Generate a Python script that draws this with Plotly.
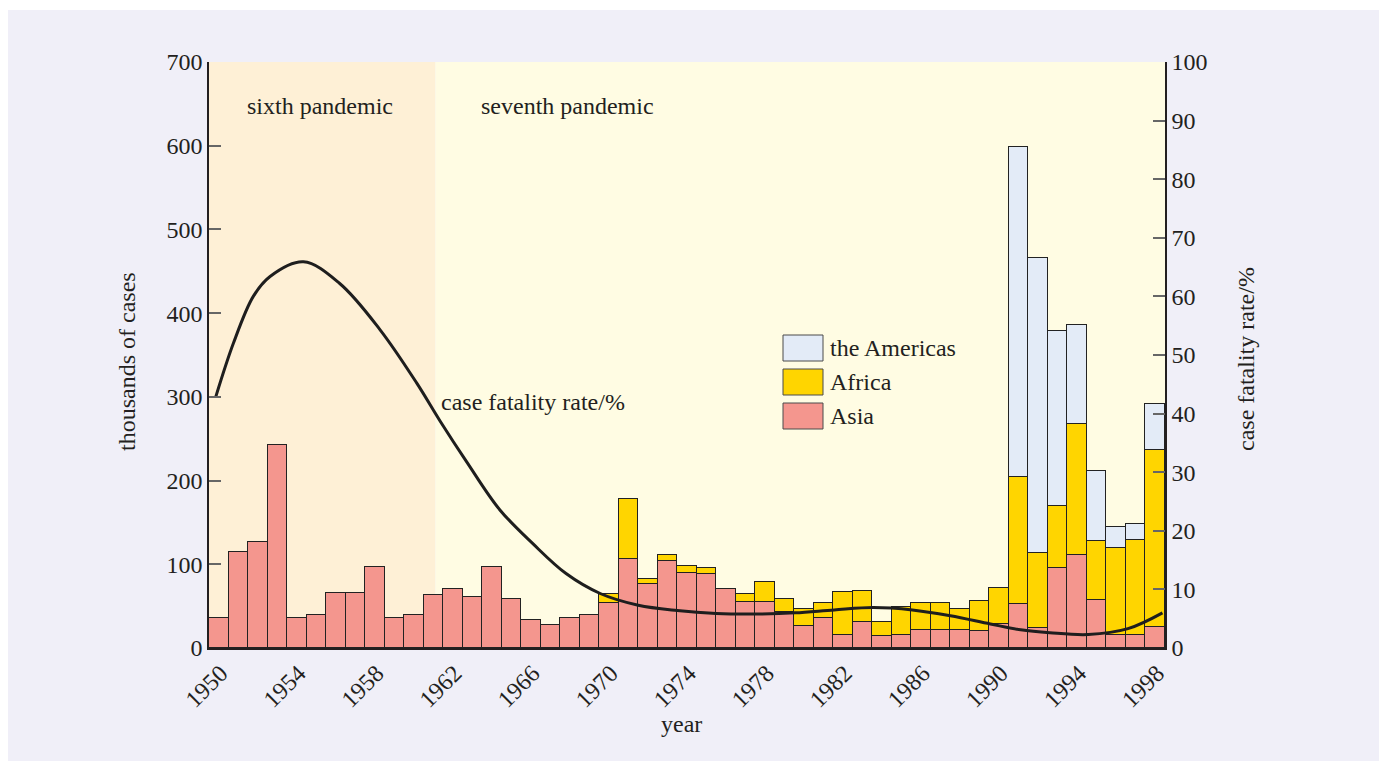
import plotly.graph_objects as go

# ---------------- data ----------------
years = list(range(1950, 1999))
asia = [36, 115, 127, 243, 36, 40, 66, 66, 97, 36, 40, 63, 70, 61, 97, 58, 34, 28, 36, 39,
        54, 106, 76, 104, 90, 88, 70, 55, 55, 43, 26, 36, 16, 31, 14, 16, 21, 22, 22, 20,
        29, 53, 24, 95, 111, 57, 15, 15, 25]
africa = [0] * 20 + [11, 72, 7, 7, 8, 8, 0, 9, 24, 16, 20, 18, 51, 37, 17, 33, 33, 32, 24, 36,
                     43, 151, 89, 75, 157, 71, 104, 114, 212]
americas = [0] * 41 + [394, 353, 209, 118, 84, 26, 19, 55]

cfr_year = [1950.35, 1951.25, 1952.27, 1953.13, 1954.84, 1956.7, 1958.77, 1960.65, 1961.85,
            1963.2, 1964.9, 1966.6, 1968.3, 1970.05, 1972.0, 1974.0, 1976.0, 1978.0, 1980.05,
            1982.05, 1984.05, 1986.05, 1988.0, 1990.05, 1991.6, 1993.1, 1995.07, 1997.1, 1998.87]
cfr = [42.9, 52, 60, 63.4, 65.9, 62.2, 54.3, 45.2, 38.7, 31.8, 23.6, 17.8, 12.7, 9.3, 7.3,
       6.4, 5.9, 5.8, 6.0, 6.5, 6.9, 6.5, 5.5, 4.1, 3.1, 2.6, 2.3, 3.3, 6.0]

tick_years = list(range(1950, 1999, 4))
left_ticks = list(range(0, 701, 100))
right_ticks = list(range(0, 101, 10))
sixth_end = 1961.6

series_names = ["Asia", "Africa", "the Americas"]
colors = {"Asia": "#F4968E", "Africa": "#FFD500", "the Americas": "#E3EBF7"}
values = {"Asia": asia, "Africa": africa, "the Americas": americas}

FONT = "Liberation Serif"
TXT = "#231F20"
FS = 24

# geometry: screen pixels, page body has an 8px margin
OFF = 8
W, H = 1387 - OFF, 761 - OFF
PL, PR, PT, PB = 209, 1165, 62, 648          # plot area in screen px
L, T = PL - OFF, PT - OFF
PW, PH = PR - PL, PB - PT
R, B = W - L - PW, H - T - PH


def px(x):
    return (x - PL) / PW


def py(y):
    return (PB - y) / PH


fig = go.Figure()
for name in series_names:
    fig.add_trace(go.Bar(
        x=[y + 0.5 for y in years],
        y=[v if v else None for v in values[name]],
        width=1,
        name=name,
        marker=dict(color=colors[name], line=dict(color="#222222", width=1)),
        showlegend=False,
    ))

fig.add_trace(go.Scatter(
    x=cfr_year, y=cfr, yaxis="y2", mode="lines",
    line=dict(color="#1e1e1e", width=3, shape="spline", smoothing=1.0),
    showlegend=False, name="case fatality rate/%",
))

shapes = [
    dict(type="rect", xref="paper", yref="paper", x0=px(0), x1=px(1400), y0=py(780), y1=py(10),
         fillcolor="#F0EFF8", line=dict(width=0), layer="below"),
    dict(type="rect", xref="x", yref="y", x0=1950, x1=sixth_end, y0=0, y1=700,
         fillcolor="#FEF0D6", line=dict(width=0), layer="below"),
    dict(type="rect", xref="x", yref="y", x0=sixth_end, x1=1999, y0=0, y1=700,
         fillcolor="#FFFCE3", line=dict(width=0), layer="below"),
]

annotations = [
    dict(text="sixth pandemic", xref="paper", yref="paper", x=px(320), y=py(106),
         showarrow=False, xanchor="center", yanchor="middle"),
    dict(text="seventh pandemic", xref="paper", yref="paper", x=px(567), y=py(106),
         showarrow=False, xanchor="center", yanchor="middle"),
    dict(text="case fatality rate/%", xref="paper", yref="paper", x=px(439), y=py(402),
         showarrow=False, xanchor="left", yanchor="middle"),
    dict(text="thousands of cases", xref="paper", yref="paper", x=px(127), y=py(362),
         showarrow=False, xanchor="center", yanchor="middle", textangle=-90),
    dict(text="case fatality rate/%", xref="paper", yref="paper", x=px(1246), y=py(359),
         showarrow=False, xanchor="center", yanchor="middle", textangle=-90),
    dict(text="year", xref="paper", yref="paper", x=px(681), y=py(724),
         showarrow=False, xanchor="center", yanchor="middle"),
]

# custom legend (boxes + labels)
legend_rows = [("the Americas", 335), ("Africa", 369), ("Asia", 403)]
for name, top in legend_rows:
    shapes.append(dict(type="rect", xref="paper", yref="paper",
                       x0=px(783), x1=px(823), y0=py(top + 26), y1=py(top),
                       fillcolor=colors[name], line=dict(color="#4a4a4a", width=1), layer="above"))
    annotations.append(dict(text=name, xref="paper", yref="paper", x=px(828), y=py(top + 13),
                            showarrow=False, xanchor="left", yanchor="middle"))

fig.update_layout(
    width=W, height=H,
    margin=dict(l=L, r=R, t=T, b=B, autoexpand=False),
    paper_bgcolor="white",
    plot_bgcolor="#FFFCE3",
    barmode="stack", bargap=0,
    font=dict(family=FONT, size=FS, color=TXT),
    shapes=shapes,
    annotations=annotations,
    xaxis=dict(
        range=[1950, 1999], showgrid=False, zeroline=False,
        tickvals=[y + 0.6 for y in tick_years], ticktext=[str(y) for y in tick_years],
        tickangle=-45, ticks="", showline=True, linecolor=TXT, linewidth=1.5,
        tickfont=dict(family=FONT, size=FS, color=TXT),
    ),
    yaxis=dict(
        range=[0, 700], tickvals=left_ticks, showgrid=False, zeroline=False,
        ticks="inside", ticklen=12, tickcolor="#666", tickwidth=1.5,
        showline=True, linecolor=TXT, linewidth=1.5,
        tickfont=dict(family=FONT, size=FS, color=TXT),
    ),
    yaxis2=dict(
        range=[0, 100], tickvals=right_ticks, overlaying="y", side="right",
        showgrid=False, zeroline=False,
        ticks="inside", ticklen=12, tickcolor="#666", tickwidth=1.5,
        showline=True, linecolor=TXT, linewidth=1.5,
        tickfont=dict(family=FONT, size=FS, color=TXT),
    ),
)

fig.write_html("out.html")
